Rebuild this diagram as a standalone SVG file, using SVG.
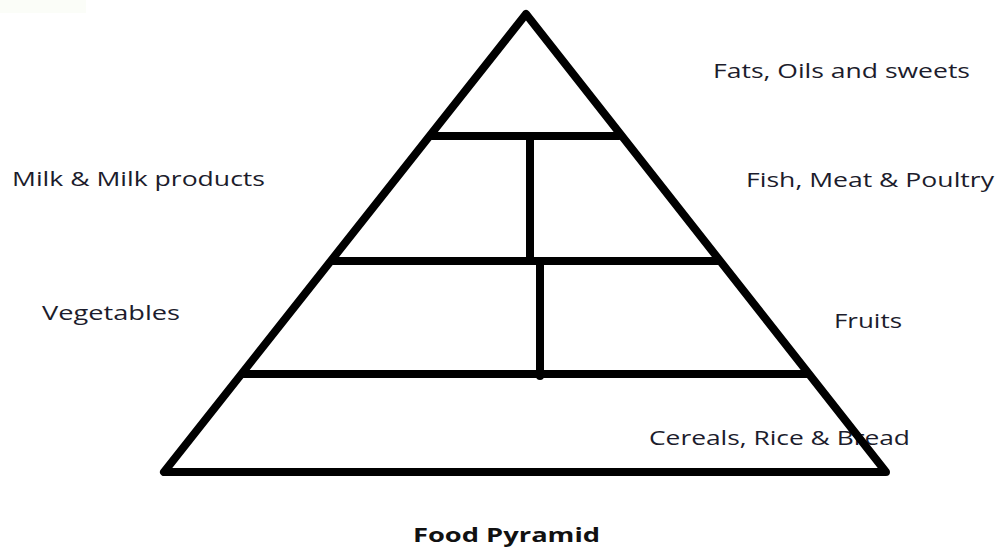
<svg xmlns="http://www.w3.org/2000/svg" width="996" height="549" viewBox="0 0 996 549">
<style>
.lbl{font-family:"Open Sans","Liberation Sans",sans-serif;font-size:20px;fill:#1c1c2c}
.ttl{font-family:"Open Sans","Liberation Sans",sans-serif;font-size:20px;font-weight:bold;fill:#111}
.ln{stroke:#000;stroke-width:8;fill:none;stroke-linecap:round;stroke-linejoin:round}
</style>
<rect x="0" y="0" width="996" height="549" fill="#fff"/>
<rect x="0" y="0" width="86" height="13" fill="#fbfdf8"/>
<g id="labels">
<text class="lbl" x="713" y="78" textLength="257" lengthAdjust="spacingAndGlyphs">Fats, Oils and sweets</text>
<text class="lbl" x="12" y="186" textLength="253" lengthAdjust="spacingAndGlyphs">Milk &amp; Milk products</text>
<text class="lbl" x="746" y="187" textLength="248" lengthAdjust="spacingAndGlyphs">Fish, Meat &amp; Poultry</text>
<text class="lbl" x="42" y="320" textLength="138" lengthAdjust="spacingAndGlyphs">Vegetables</text>
<text class="lbl" x="834" y="328" textLength="68" lengthAdjust="spacingAndGlyphs">Fruits</text>
<text class="lbl" x="649" y="445" textLength="261" lengthAdjust="spacingAndGlyphs">Cereals, Rice &amp; Bread</text>
</g>
<g id="pyramid">
<polygon class="ln" points="526,14 164,472 886,472"/>
</g>
<g id="connectors">
<line class="ln" x1="432" y1="136" x2="619" y2="136" stroke-linecap="butt"/>
<line class="ln" x1="333" y1="261" x2="719" y2="261" stroke-linecap="butt"/>
<line class="ln" x1="243" y1="374" x2="808" y2="374" stroke-linecap="butt"/>
<line class="ln" x1="530" y1="136" x2="530" y2="261" stroke-linecap="butt"/>
<line class="ln" x1="540" y1="261" x2="540" y2="376"/>
</g>
<g id="title">
<text class="ttl" x="413" y="542" textLength="187" lengthAdjust="spacingAndGlyphs">Food Pyramid</text>
</g>
</svg>
